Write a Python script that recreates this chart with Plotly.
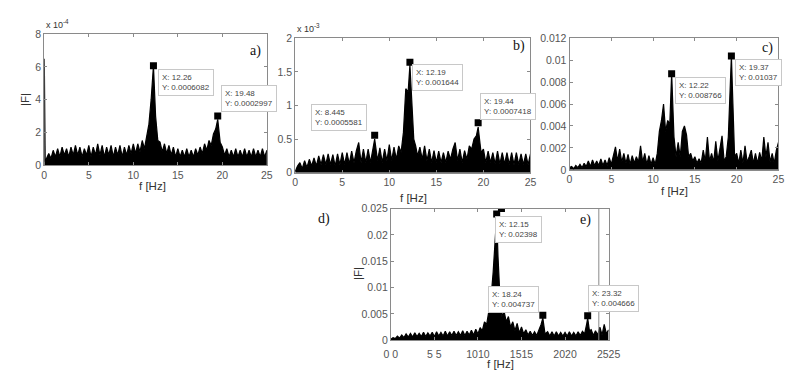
import plotly.graph_objects as go

W, H = 801, 375

# ---------------- data ----------------
a_f = [0, 0.1, 0.25, 0.5, 0.75, 1.0, 1.25, 1.5, 1.75, 2.0, 2.25, 2.5, 2.75, 3.0, 3.25, 3.5, 3.75, 4.0, 4.25, 4.5, 4.75,
       5.0, 5.25, 5.5, 5.75, 6.0, 6.25, 6.5, 6.75, 7.0, 7.25, 7.5, 7.75, 8.0, 8.25, 8.5, 8.75, 9.0, 9.25, 9.5, 9.75,
       10.0, 10.25, 10.5, 10.75, 11.0, 11.25, 11.5, 11.75, 12.0, 12.26, 12.5, 12.75, 13.0, 13.25, 13.5, 13.75, 14.0,
       14.25, 14.5, 14.75, 15.0, 15.25, 15.5, 15.75, 16.0, 16.25, 16.5, 16.75, 17.0, 17.25, 17.5, 17.75, 18.0, 18.25,
       18.5, 18.75, 19.0, 19.25, 19.48, 19.75, 20.0, 20.25, 20.5, 20.75, 21.0, 21.25, 21.5, 21.75, 22.0, 22.25, 22.5,
       22.75, 23.0, 23.25, 23.5, 23.75, 24.0, 24.25, 24.5, 24.75, 25.0]
a_amp = [6.5, 0.2, 0.4, 0.7, 0.4, 0.9, 0.5, 1.0, 0.5, 1.1, 0.6, 1.0, 0.5, 1.1, 0.6, 1.2, 0.6, 1.1, 0.5, 1.0, 0.6,
         1.2, 0.5, 1.1, 0.6, 1.3, 0.6, 1.2, 0.5, 1.1, 0.6, 1.2, 0.5, 1.1, 0.6, 1.2, 0.5, 1.1, 0.6, 1.2, 0.7,
         1.3, 0.7, 1.3, 0.8, 1.5, 1.0, 1.9, 2.5, 4.0, 6.08, 3.0, 1.5, 1.4, 0.8, 1.3, 0.7, 1.2,
         0.6, 1.1, 0.5, 1.0, 0.5, 0.9, 0.5, 1.0, 0.5, 0.9, 0.5, 1.0, 0.6, 1.1, 0.7, 1.3, 0.9,
         1.5, 1.2, 1.9, 2.2, 2.8, 1.4, 1.1, 0.6, 1.0, 0.5, 0.9, 0.5, 1.0, 0.5, 0.9, 0.5, 1.0,
         0.5, 0.9, 0.5, 1.0, 0.5, 0.9, 0.5, 1.0, 0.5, 0.9]
a_peak_f = [12.26, 19.48]
a_peak_y = [6.082, 2.997]
a_tips = ["X: 12.26<br>Y: 0.0006082", "X: 19.48<br>Y: 0.0002997"]

b_f = [0, 0.25, 0.5, 0.75, 1.0, 1.25, 1.5, 1.75, 2.0, 2.25, 2.5, 2.75, 3.0, 3.25, 3.5, 3.75, 4.0, 4.25, 4.5, 4.75,
       5.0, 5.25, 5.5, 5.75, 6.0, 6.25, 6.5, 6.75, 7.0, 7.25, 7.5, 7.75, 8.0, 8.25, 8.445, 8.75, 9.0, 9.25, 9.5, 9.75,
       10.0, 10.25, 10.5, 10.75, 11.0, 11.25, 11.5, 11.75, 12.0, 12.19, 12.4, 12.6, 12.8, 13.0, 13.25, 13.5, 13.75,
       14.0, 14.25, 14.5, 14.75, 15.0, 15.25, 15.5, 15.75, 16.0, 16.25, 16.5, 16.75, 17.0, 17.25, 17.5, 17.75, 18.0,
       18.25, 18.5, 18.75, 19.0, 19.25, 19.44, 19.75, 20.0, 20.25, 20.5, 20.75, 21.0, 21.25, 21.5, 21.75, 22.0, 22.25,
       22.5, 22.75, 23.0, 23.25, 23.5, 23.75, 24.0, 24.25, 24.5, 24.75, 25.0]
b_amp = [0.02, 0.1, 0.15, 0.06, 0.18, 0.08, 0.2, 0.1, 0.22, 0.1, 0.25, 0.12, 0.27, 0.12, 0.28, 0.12, 0.27, 0.1, 0.28, 0.12,
         0.3, 0.12, 0.3, 0.13, 0.32, 0.15, 0.33, 0.45, 0.15, 0.35, 0.15, 0.35, 0.15, 0.35, 0.5, 0.18, 0.37, 0.15, 0.35, 0.18,
         0.42, 0.18, 0.38, 0.2, 0.4, 0.3, 0.6, 1.25, 1.2, 1.6, 0.9, 0.5, 0.4, 0.25, 0.38, 0.2, 0.4,
         0.18, 0.35, 0.15, 0.33, 0.15, 0.32, 0.15, 0.3, 0.15, 0.32, 0.2, 0.35, 0.45, 0.18, 0.35, 0.15, 0.33,
         0.2, 0.4, 0.35, 0.5, 0.55, 0.68, 0.3, 0.35, 0.15, 0.32, 0.15, 0.3, 0.13, 0.32, 0.13, 0.3, 0.13,
         0.3, 0.12, 0.3, 0.12, 0.3, 0.12, 0.28, 0.12, 0.28, 0.12, 0.28]
b_peak_f = [8.445, 12.19, 19.44]
b_peak_y = [0.5581, 1.644, 0.7418]
b_tips = ["X: 8.445<br>Y: 0.0005581", "X: 12.19<br>Y: 0.001644", "X: 19.44<br>Y: 0.0007418"]

c_f = [0, 0.25, 0.5, 0.75, 1.0, 1.25, 1.5, 1.75, 2.0, 2.25, 2.5, 2.75, 3.0, 3.25, 3.5, 3.75, 4.0, 4.25, 4.5, 4.75,
       5.0, 5.25, 5.5, 5.75, 6.0, 6.25, 6.5, 6.75, 7.0, 7.25, 7.5, 7.75, 8.0, 8.25, 8.5, 8.75, 9.0, 9.25, 9.5, 9.75,
       10.0, 10.25, 10.5, 10.75, 11.0, 11.25, 11.5, 11.75, 12.0, 12.22, 12.5, 12.75, 13.0, 13.25, 13.5, 13.75, 14.0,
       14.25, 14.5, 14.75, 15.0, 15.25, 15.5, 15.75, 16.0, 16.25, 16.5, 16.75, 17.0, 17.25, 17.5, 17.75, 18.0, 18.25,
       18.5, 18.75, 19.0, 19.2, 19.37, 19.55, 19.75, 20.0, 20.25, 20.5, 20.75, 21.0, 21.25, 21.5, 21.75, 22.0, 22.25,
       22.5, 22.75, 23.0, 23.25, 23.5, 23.75, 24.0, 24.25, 24.5, 24.75, 25.0]
c_amp = [0.0002, 0.0003, 0.0001, 0.0004, 0.0002, 0.0005, 0.0002, 0.0006, 0.0003, 0.0008, 0.0003, 0.0009, 0.0004,
         0.0008, 0.0004, 0.001, 0.0004, 0.0009, 0.0004, 0.0011, 0.0005, 0.0012, 0.0021, 0.0008, 0.0019, 0.0007,
         0.0015, 0.0006, 0.0014, 0.0005, 0.0013, 0.0006, 0.0012, 0.0007, 0.0022, 0.0007, 0.0015, 0.0005, 0.0013, 0.0005,
         0.0011, 0.0005, 0.0015, 0.0035, 0.0045, 0.006, 0.0035, 0.0045, 0.0042, 0.0088, 0.003, 0.0012, 0.0025, 0.0012,
         0.0035, 0.004, 0.0032, 0.0012, 0.0015, 0.0008, 0.0012, 0.0006, 0.001, 0.0006, 0.0018, 0.0008, 0.003, 0.0008,
         0.0015, 0.0007, 0.0026, 0.0008, 0.0018, 0.0031, 0.0008, 0.0012, 0.003, 0.008, 0.0104, 0.006, 0.0012, 0.0015,
         0.0006, 0.0018, 0.0006, 0.0022, 0.0007, 0.0012, 0.0018, 0.0006, 0.0015, 0.0006, 0.0016, 0.0008, 0.003,
         0.0012, 0.0025, 0.0007, 0.0015, 0.0006, 0.0018, 0.0025]
c_peak_f = [12.22, 19.37]
c_peak_y = [0.008766, 0.01037]
c_tips = ["X: 12.22<br>Y: 0.008766", "X: 19.37<br>Y: 0.01037"]

d_f = [0, 0.25, 0.5, 0.75, 1.0, 1.25, 1.5, 1.75, 2.0, 2.25, 2.5, 2.75, 3.0, 3.25, 3.5, 3.75, 4.0, 4.25, 4.5, 4.75,
       5.0, 5.25, 5.5, 5.75, 6.0, 6.25, 6.5, 6.75, 7.0, 7.25, 7.5, 7.75, 8.0, 8.25, 8.5, 8.75, 9.0, 9.25, 9.5, 9.75,
       10.0, 10.25, 10.5, 10.75, 11.0, 11.25, 11.5, 11.75, 12.0, 12.15, 12.3, 12.5, 12.75, 13.0, 13.25, 13.5, 13.75,
       14.0, 14.25, 14.5, 14.75, 15.0, 15.25, 15.5, 15.75, 16.0, 16.25, 16.5, 16.75, 17.0, 17.25, 17.45, 17.7, 18.0,
       18.25, 18.5, 18.75, 19.0, 19.25, 19.5, 19.75, 20.0, 20.25, 20.5, 20.75, 21.0, 21.25, 21.5, 21.75, 22.0, 22.25,
       22.5, 22.6, 22.8, 23.0, 23.25, 23.5, 23.75, 24.0, 24.25, 24.5, 24.75, 25.0]
d_amp = [0.0002, 0.0005, 0.0003, 0.0008, 0.0004, 0.001, 0.0005, 0.0012, 0.0006, 0.0013, 0.0006, 0.0014, 0.0007,
         0.0013, 0.0007, 0.0015, 0.0007, 0.0014, 0.0008, 0.0015, 0.0007, 0.0016, 0.0008, 0.0015, 0.0008, 0.0017,
         0.0008, 0.0016, 0.0009, 0.0017, 0.0009, 0.0016, 0.0009, 0.0018, 0.0009, 0.0017, 0.001, 0.0019, 0.001,
         0.0021, 0.0012, 0.0024, 0.0018, 0.0035, 0.003, 0.0055, 0.008, 0.013, 0.019, 0.0237, 0.016, 0.009, 0.0045,
         0.0055, 0.0035, 0.0045, 0.0025, 0.0035, 0.0018, 0.0032, 0.0014, 0.0025, 0.0012, 0.002, 0.001, 0.0017, 0.0009,
         0.0016, 0.0009, 0.0018, 0.003, 0.0042, 0.0012, 0.0016, 0.0008, 0.0016, 0.0008, 0.0016, 0.0008, 0.0015,
         0.0008, 0.0015, 0.0008, 0.0016, 0.0008, 0.0015, 0.0008, 0.0016, 0.0009, 0.0017, 0.0012, 0.0032, 0.0042,
         0.0018, 0.002, 0.0009, 0.0018, 0.001, 0.0025, 0.001, 0.003, 0.0012, 0.002]
d_peak_f = [12.15, 17.45, 22.6, 12.7]
d_peak_y = [0.02398, 0.004737, 0.004666, 0.025]
d_tips = ["X: 12.15<br>Y: 0.02398", "X: 18.24<br>Y: 0.004737", "X: 23.32<br>Y: 0.004666"]

x_ticks = [0, 5, 10, 15, 20, 25]
d_xtick_text = ["0 0", "5 5", "1010", "1515", "2020", "2525"]
a_yticks = [0, 2, 4, 6, 8]
b_yticks = [0, 0.5, 1, 1.5, 2]
b_ytick_text = ["0", "0.5", "1", "1.5", "2"]
c_yticks = [0, 0.002, 0.004, 0.006, 0.008, 0.01, 0.012]
c_ytick_text = ["0", "0.002", "0.004", "0.006", "0.008", "0.01", "0.012"]
d_yticks = [0, 0.005, 0.01, 0.015, 0.02, 0.025]
d_ytick_text = ["0", "0.005", "0.01", "0.015", "0.02", "0.025"]

# ---------------- layout helpers ----------------
def px_x(p):
    return p / W

def px_y(p):
    return 1 - p / H

FONT = "Liberation Sans, Arial, sans-serif"
SERIF = "Liberation Serif, Times New Roman, serif"
TICKC = "#555555"
AXC = "#8a8a8a"

panels = [
    (a_f, a_amp, a_peak_f, a_peak_y, [0, 8], a_yticks, [str(v) for v in a_yticks], 30, 258, 21, 156),
    (b_f, b_amp, b_peak_f, b_peak_y, [0, 2], b_yticks, b_ytick_text, 287, 528, 25, 164),
    (c_f, c_amp, c_peak_f, c_peak_y, [0, 0.012], c_yticks, c_ytick_text, 568, 782, 25, 161),
    (d_f, d_amp, d_peak_f, d_peak_y, [0, 0.025], d_yticks, d_ytick_text, 385, 608, 201, 337),
]

fig = go.Figure()
layout = dict(
    width=W, height=H, margin=dict(l=0, r=0, t=0, b=0),
    paper_bgcolor="white", plot_bgcolor="white", showlegend=False,
    font=dict(family=FONT, size=10, color=TICKC),
)

for i, (xf, ya, pf, py, yr, yt, ytt, l, r, t, b) in enumerate(panels):
    n = "" if i == 0 else str(i + 1)
    xa, ya_name = "x" + n, "y" + n
    fig.add_trace(go.Scatter(x=xf, y=ya, mode="lines", xaxis=xa, yaxis=ya_name,
                             line=dict(color="black", width=1.2), fill="tozeroy",
                             fillcolor="black"))
    fig.add_trace(go.Scatter(x=pf, y=py, mode="markers", xaxis=xa, yaxis=ya_name,
                             marker=dict(symbol="square", color="black", size=7)))
    common = dict(showline=True, linecolor=AXC, linewidth=1, mirror="ticks", ticks="inside",
                  ticklen=3, tickcolor=AXC, showgrid=False, zeroline=False,
                  tickfont=dict(family=FONT, size=10.5, color=TICKC))
    xtt = d_xtick_text if i == 3 else [str(v) for v in x_ticks]
    layout["xaxis" + n] = dict(common, domain=[px_x(l), px_x(r)], range=[0, 25],
                               tickvals=x_ticks, ticktext=xtt, anchor=ya_name,
                               ticklabelstandoff=(4 if i == 3 else 0))
    layout["yaxis" + n] = dict(common, domain=[px_y(b), px_y(t)], range=yr,
                               tickvals=yt, ticktext=ytt, anchor=xa)

fig.update_layout(**layout)

# vertical line of the overlapping panel e
fig.add_shape(type="line", xref="paper", yref="paper", x0=px_x(598), x1=px_x(598),
              y0=px_y(337), y1=px_y(201), line=dict(color=AXC, width=1))

ann = []
def text(x, y, s, size=11, family=FONT, color="#333333", angle=0, xanchor="center"):
    ann.append(dict(x=px_x(x), y=px_y(y), xref="paper", yref="paper", text=s, showarrow=False,
                    font=dict(family=family, size=size, color=color), textangle=angle,
                    xanchor=xanchor, yanchor="middle"))

# axis titles
text(141, 178, "f [Hz]", 11.5)
text(408, 190, "f [Hz]", 11.5)
text(676, 183, "f [Hz]", 11.5)
text(497, 362, "f [Hz]", 11.5)
text(10, 88, "|F|", 11.5, angle=-90)
text(352, 268, "|F|", 11.5, angle=-90)
# exponents
text(30, 10, "x 10<sup>-4</sup>", 9, xanchor="left")
text(287, 14, "x 10<sup>-3</sup>", 9, xanchor="left")
# panel letters
text(246, 38, "a)", 14, SERIF, "#111111")
text(516, 33, "b)", 14, SERIF, "#111111")
text(771, 35, "c)", 14, SERIF, "#111111")
text(316, 212, "d)", 14, SERIF, "#111111")
text(584, 213, "e)", 14, SERIF, "#111111")

# data tips
def tip(x, y, s):
    ann.append(dict(x=px_x(x), y=px_y(y), xref="paper", yref="paper", text=s, showarrow=False,
                    xanchor="left", yanchor="top", align="left", bgcolor="white",
                    bordercolor="#c8c8c8", borderwidth=1, borderpad=3,
                    font=dict(family=FONT, size=8, color="#444444")))

tip(146, 57, a_tips[0])
tip(211, 73, a_tips[1])
tip(303, 93, b_tips[0])
tip(407, 52, b_tips[1])
tip(476, 82, b_tips[2])
tip(676, 65, c_tips[0])
tip(737, 47, c_tips[1])
tip(492, 209, d_tips[0])
tip(485, 281, d_tips[1])
tip(587, 280, d_tips[2])

fig.update_layout(annotations=ann)
fig.write_html("out.html")
